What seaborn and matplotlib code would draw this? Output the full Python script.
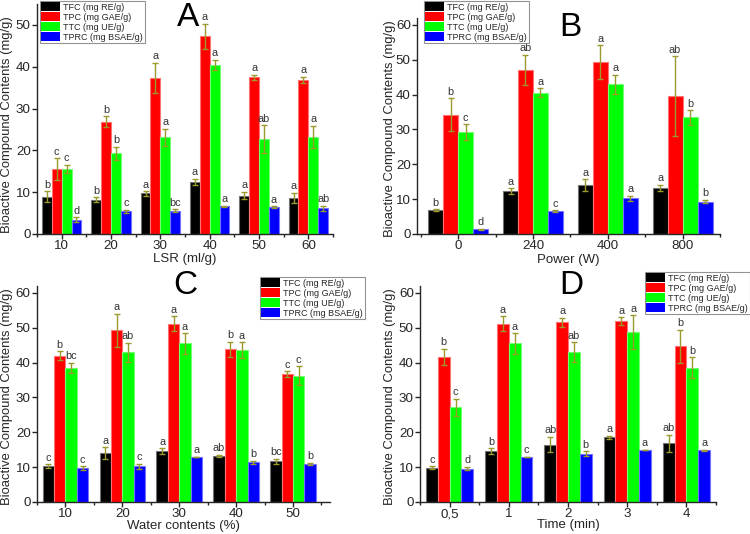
import numpy as np
import pandas as pd
import matplotlib
matplotlib.use("Agg")
import matplotlib.pyplot as plt
import seaborn as sns
from matplotlib.colors import to_rgb

# ---------------- data ----------------
series = ["TFC (mg RE/g)", "TPC (mg GAE/g)", "TTC (mg UE/g)", "TPRC (mg BSAE/g)"]
colors = ["#000000", "#FF0000", "#00FF00", "#0000FF"]

# Panel A
a_cats = ["10", "20", "30", "40", "50", "60"]
a_tfc = [8.9, 8.2, 9.7, 12.4, 9.2, 8.6]
a_tpc = [15.5, 26.8, 37.4, 47.3, 37.5, 36.8]
a_ttc = [15.5, 19.3, 23.1, 40.5, 22.7, 23.2]
a_tprc = [3.4, 5.4, 5.6, 6.6, 6.4, 6.2]
a_tfc_err = [1.3, 0.6, 0.5, 0.8, 0.9, 1.2]
a_tpc_err = [2.6, 1.3, 3.6, 3.0, 0.6, 0.8]
a_ttc_err = [1.0, 1.6, 2.0, 1.2, 3.3, 2.6]
a_tprc_err = [0.6, 0.3, 0.3, 0.2, 0.2, 0.6]
a_tfc_let = ["b", "b", "a", "a", "a", "a"]
a_tpc_let = ["c", "b", "a", "a", "a", "a"]
a_ttc_let = ["c", "b", "a", "a", "ab", "a"]
a_tprc_let = ["d", "c", "bc", "a", "a", "ab"]

# Panel B
b_cats = ["0", "240", "400", "800"]
b_tfc = [6.8, 12.4, 14.0, 13.3]
b_tpc = [34.2, 47.2, 49.3, 39.6]
b_ttc = [29.3, 40.5, 43.0, 33.5]
b_tprc = [1.3, 6.6, 10.2, 9.3]
b_tfc_err = [0.3, 0.8, 1.7, 0.9]
b_tpc_err = [4.7, 4.3, 4.9, 11.5]
b_ttc_err = [2.3, 1.3, 2.7, 2.1]
b_tprc_err = [0.2, 0.2, 0.8, 0.5]
b_tfc_let = ["b", "a", "a", "a"]
b_tpc_let = ["b", "ab", "a", "ab"]
b_ttc_let = ["c", "a", "a", "b"]
b_tprc_let = ["d", "c", "a", "b"]

# Panel C
c_cats = ["10", "20", "30", "40", "50"]
c_tfc = [10.3, 14.1, 14.7, 13.2, 11.7]
c_tpc = [42.0, 49.3, 51.2, 43.8, 36.7]
c_ttc = [38.5, 43.0, 45.5, 43.6, 36.3]
c_tprc = [9.7, 10.2, 12.9, 11.4, 11.0]
c_tfc_err = [0.6, 1.7, 0.8, 0.4, 0.7]
c_tpc_err = [1.3, 4.8, 2.2, 2.2, 0.8]
c_ttc_err = [1.5, 2.7, 2.9, 2.2, 2.6]
c_tprc_err = [0.5, 0.8, 0.1, 0.4, 0.3]
c_tfc_let = ["c", "a", "a", "ab", "bc"]
c_tpc_let = ["b", "a", "a", "b", "c"]
c_ttc_let = ["bc", "ab", "a", "a", "c"]
c_tprc_let = ["c", "c", "a", "b", "b"]

# Panel D
d_cats = ["0,5", "1", "2", "3", "4"]
d_tfc = [9.8, 14.7, 16.5, 18.6, 16.8]
d_tpc = [41.7, 51.2, 51.6, 51.9, 44.7]
d_ttc = [27.2, 45.5, 43.0, 48.8, 38.5]
d_tprc = [9.6, 12.9, 13.9, 14.9, 14.8]
d_tfc_err = [0.4, 0.8, 2.2, 0.4, 2.5]
d_tpc_err = [2.3, 2.2, 1.3, 1.2, 4.8]
d_ttc_err = [2.5, 2.9, 2.9, 4.8, 3.0]
d_tprc_err = [0.5, 0.1, 0.6, 0.1, 0.2]
d_tfc_let = ["c", "b", "ab", "a", "ab"]
d_tpc_let = ["b", "a", "a", "a", "b"]
d_ttc_let = ["c", "a", "ab", "a", "b"]
d_tprc_let = ["d", "c", "b", "a", "a"]

# ---------------- style ----------------
sns.set_style("ticks")
plt.rcParams["font.family"] = ["Liberation Sans", "DejaVu Sans"]

W, H = 750, 534
fig = plt.figure(figsize=(7.5, 5.34), dpi=100)


def px_axes(left, right, top, bottom):
    return fig.add_axes([left / W, 1 - bottom / H, (right - left) / W, (bottom - top) / H])


panels = [
    dict(cats=a_cats, vals=[a_tfc, a_tpc, a_ttc, a_tprc],
         errs=[a_tfc_err, a_tpc_err, a_ttc_err, a_tprc_err],
         lets=[a_tfc_let, a_tpc_let, a_ttc_let, a_tprc_let],
         xlabel="LSR (ml/g)", letter="A", box=(37, 333, 4, 234), xlim=(-0.5, 5.45),
         ylim=(0, 55), yticks=[0, 10, 20, 30, 40, 50],
         leg=(40, 1), tl=(188, 17), xl_top=253, yl=(13, 125)),
    dict(cats=b_cats, vals=[b_tfc, b_tpc, b_ttc, b_tprc],
         errs=[b_tfc_err, b_tpc_err, b_ttc_err, b_tprc_err],
         lets=[b_tfc_let, b_tpc_let, b_ttc_let, b_tprc_let],
         xlabel="Power (W)", letter="B", box=(417, 720, 18, 234), xlim=(-0.55, 3.45),
         ylim=(0, 62), yticks=[0, 10, 20, 30, 40, 50, 60],
         leg=(424, 1), tl=(570, 27), xl_top=254, yl=(396, 129)),
    dict(cats=c_cats, vals=[c_tfc, c_tpc, c_ttc, c_tprc],
         errs=[c_tfc_err, c_tpc_err, c_ttc_err, c_tprc_err],
         lets=[c_tfc_let, c_tpc_let, c_ttc_let, c_tprc_let],
         xlabel="Water contents (%)", letter="C", box=(37, 330, 286, 502), xlim=(-0.45, 4.65),
         ylim=(0, 62), yticks=[0, 10, 20, 30, 40, 50, 60],
         leg=(260, 277), tl=(185, 285), xl_top=519.5, yl=(13, 397)),
    dict(cats=d_cats, vals=[d_tfc, d_tpc, d_ttc, d_tprc],
         errs=[d_tfc_err, d_tpc_err, d_ttc_err, d_tprc_err],
         lets=[d_tfc_let, d_tpc_let, d_ttc_let, d_tprc_let],
         xlabel="Time (min)", letter="D", box=(420, 716, 286, 502), xlim=(-0.5, 4.45),
         ylim=(0, 62), yticks=[0, 10, 20, 30, 40, 50, 60],
         leg=(645, 272), tl=(571, 285), xl_top=519, yl=(396, 397)),
]

err_color = "#9C9A2C"

for p in panels:
    l, r, t, b = p["box"]
    ax = px_axes(l, r, t, b)
    rows = []
    for s, v in zip(series, p["vals"]):
        for c, val in zip(p["cats"], v):
            rows.append({"cat": c, "series": s, "val": val})
    df = pd.DataFrame(rows)
    sns.barplot(data=df, x="cat", y="val", hue="series", order=p["cats"],
                hue_order=series, palette=colors, errorbar=None, width=0.8,
                saturation=1, ax=ax)
    bar_containers = list(ax.containers)
    for i, cont in enumerate(bar_containers):
        base = np.array(to_rgb(colors[i]))
        edge = tuple(base * 0.55 + 0.45)
        xs, ys = [], []
        for bar in cont:
            bar.set_edgecolor(edge)
            bar.set_linewidth(0.8)
            xs.append(bar.get_x() + bar.get_width() / 2)
            ys.append(bar.get_height())
        ax.errorbar(xs, ys, yerr=p["errs"][i], fmt="none", ecolor=err_color,
                    elinewidth=1.0, capsize=2.2, capthick=1.0, zorder=4)
        for x, y, e, lt in zip(xs, ys, p["errs"][i], p["lets"][i]):
            ax.text(x, y + e + 0.4, lt, ha="center", va="bottom", fontsize=7.8,
                    color="#333333", zorder=5)
    ax.set_xlim(*p["xlim"])
    ax.set_ylim(*p["ylim"])
    ax.set_yticks(p["yticks"])
    ax.set_xticks(range(len(p["cats"])))
    ax.set_xticklabels(p["cats"])
    ax.set_xticks(np.arange(len(p["cats"]) + 1) - 0.5, minor=True)
    ax.tick_params(axis="both", which="major", direction="out", length=3.5, width=1,
                   labelsize=9.6, pad=1.0)
    ax.tick_params(axis="x", which="minor", direction="out", length=2.5, width=1)
    ax.set_xlabel(p["xlabel"], fontsize=9.5)
    ax.xaxis.set_label_coords(0.5, -(p["xl_top"] - b) / (b - t))
    ax.set_ylabel("Bioactive Compound Contents (mg/g)", fontsize=9.4)
    ylx, ylc = p["yl"]
    ax.yaxis.set_label_coords((ylx - l) / (r - l), (b - ylc) / (b - t))
    for sp in ["top", "right"]:
        ax.spines[sp].set_visible(False)
    for sp in ["left", "bottom"]:
        ax.spines[sp].set_linewidth(1.0)
    handles, labels = ax.get_legend_handles_labels()
    if ax.get_legend() is not None:
        ax.get_legend().remove()
    lx, ly = p["leg"]
    leg = fig.legend(handles, labels, loc="upper left",
                     bbox_to_anchor=(lx / W, 1 - ly / H), bbox_transform=fig.transFigure,
                     fontsize=6.5, frameon=True, fancybox=False, edgecolor="#777777",
                     handlelength=2.1, handleheight=1.05, handletextpad=0.35,
                     labelspacing=0.08, borderpad=0.15, borderaxespad=0.0)
    leg.get_frame().set_linewidth(0.8)
    for h in leg.legend_handles:
        h.set_edgecolor("none")
    tx, ty = p["tl"]
    fig.text(tx / W, 1 - ty / H, p["letter"], ha="center", va="center", fontsize=24,
             color="black")

fig.savefig("out.png", dpi=100)
